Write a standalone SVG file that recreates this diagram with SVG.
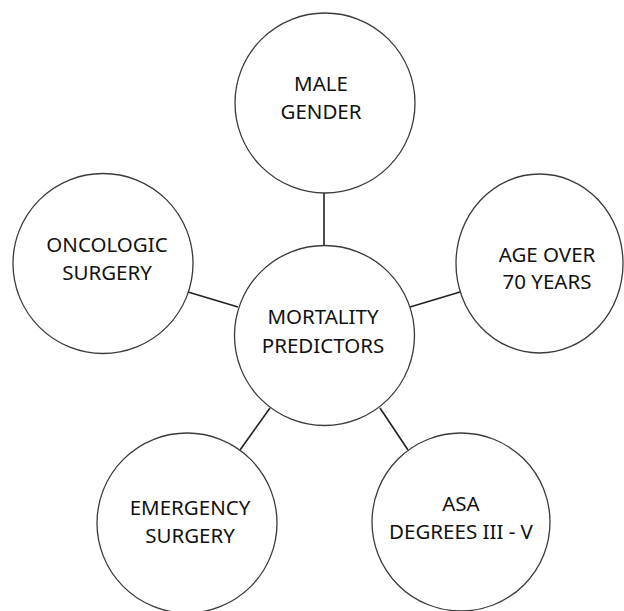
<svg xmlns="http://www.w3.org/2000/svg" width="624" height="611" viewBox="0 0 624 611">
<style>
.node{fill:#fff;stroke:#3a3a3a;stroke-width:1.3}
.lbl{font-family:"Noto Sans","Open Sans","Liberation Sans",sans-serif;font-size:20.5px;fill:#111;text-anchor:middle}
.edge{stroke:#222;stroke-width:1.6;fill:none}
</style>
<rect width="624" height="611" fill="#fff"/>
<g id="connectors">
<line class="edge" x1="324" y1="193" x2="324" y2="245"/>
<line class="edge" x1="188" y1="292" x2="238" y2="307"/>
<line class="edge" x1="410" y1="307" x2="460" y2="292"/>
<line class="edge" x1="240" y1="450" x2="270" y2="408"/>
<line class="edge" x1="380" y1="408" x2="408" y2="450"/>
</g>
<g id="male-gender">
<circle class="node" cx="325" cy="103" r="90"/>
<text class="lbl" x="321" y="91">MALE</text>
<text class="lbl" x="321" y="119">GENDER</text>
</g>
<g id="mortality-predictors">
<circle class="node" cx="324.5" cy="335.5" r="90"/>
<text class="lbl" x="323" y="324">MORTALITY</text>
<text class="lbl" x="323" y="353">PREDICTORS</text>
</g>
<g id="oncologic-surgery">
<circle class="node" cx="103" cy="263.5" r="90"/>
<text class="lbl" x="107" y="252">ONCOLOGIC</text>
<text class="lbl" x="107" y="280">SURGERY</text>
</g>
<g id="age-over-70">
<ellipse class="node" cx="539.5" cy="263.5" rx="83.5" ry="89.5"/>
<text class="lbl" x="547" y="262">AGE OVER</text>
<text class="lbl" x="547" y="289">70 YEARS</text>
</g>
<g id="emergency-surgery">
<circle class="node" cx="187" cy="523" r="90"/>
<text class="lbl" x="190" y="515">EMERGENCY</text>
<text class="lbl" x="190" y="543">SURGERY</text>
</g>
<g id="asa-degrees">
<circle class="node" cx="461" cy="522" r="89"/>
<text class="lbl" x="461" y="511">ASA</text>
<text class="lbl" x="461" y="539">DEGREES III - V</text>
</g>
</svg>
